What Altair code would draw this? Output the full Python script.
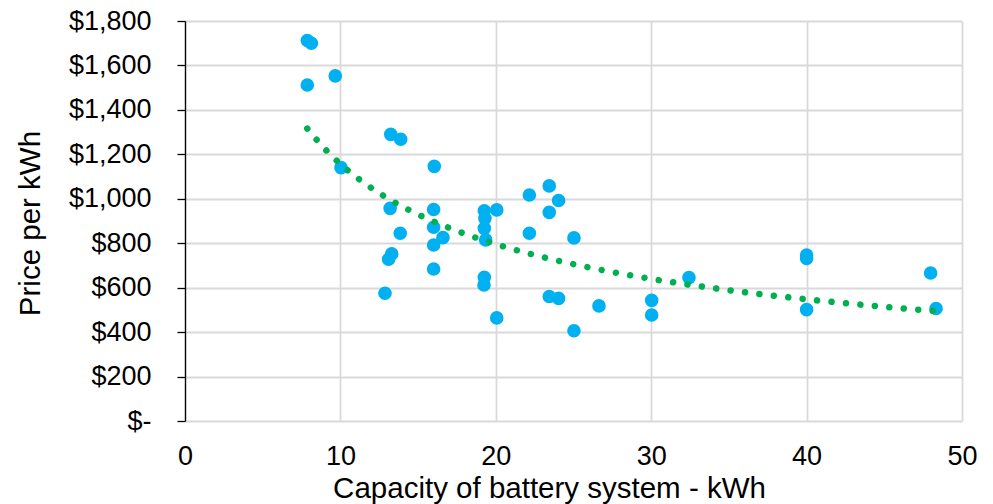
import altair as alt
import pandas as pd

# Battery capacity (kWh) and price per kWh ($)
capacity = [7.87, 8.13, 7.87, 9.67, 10.04, 13.24, 13.88, 16.04, 13.2, 16.0,
            13.85, 16.0, 16.6, 16.0, 16.0, 13.3, 13.1, 12.87, 19.26, 19.3,
            19.26, 19.35, 20.06, 19.26, 19.24, 20.06, 22.16, 22.16, 23.44, 24.04,
            23.44, 25.03, 23.44, 24.04, 25.03, 26.64, 30.03, 30.03, 32.43, 40.0,
            40.0, 40.0, 47.98, 48.33]
price = [1712, 1700, 1512, 1553, 1140, 1290, 1268, 1146, 957, 952,
         845, 872, 825, 792, 684, 752, 728, 575, 946, 912,
         867, 815, 950, 647, 612, 464, 1017, 845, 1058, 992,
         939, 824, 560, 552, 406, 518, 543, 477, 645, 747,
         732, 501, 666, 506]

x_ticks = [0, 10, 20, 30, 40, 50]
y_ticks = [0, 200, 400, 600, 800, 1000, 1200, 1400, 1600, 1800]

df = pd.DataFrame({"capacity": capacity, "price": price})

FONT = "Liberation Sans"

x_enc = alt.X(
    "capacity:Q",
    scale=alt.Scale(domain=[0, 50], nice=False, zero=False),
    axis=alt.Axis(
        values=x_ticks,
        title="Capacity of battery system - kWh",
        grid=True, gridColor="#D9D9D9", gridWidth=1.8,
        domain=False, ticks=False, tickSize=0, labelFlush=False,
        labelPadding=22, labelFont=FONT, labelFontSize=27, labelColor="#000000",
        titleFont=FONT, titleFontSize=29.5, titleFontWeight="normal", titleColor="#000000",
        titleX=364, titleY=76, titleAlign="center", titleBaseline="alphabetic",
    ),
)
y_enc = alt.Y(
    "price:Q",
    scale=alt.Scale(domain=[0, 1800], nice=False),
    axis=alt.Axis(
        values=y_ticks,
        title="Price per kWh",
        labelExpr="datum.value == 0 ? '$-\u2002' : '$' + format(datum.value, ',')",
        grid=True, gridColor="#D9D9D9", gridWidth=1.8,
        domain=True, domainColor="#000000", domainWidth=1.3,
        ticks=True, tickColor="#000000", tickWidth=1.3, tickSize=8,
        labelPadding=26, labelFont=FONT, labelFontSize=27, labelColor="#000000",
        titleFont=FONT, titleFontSize=29.5, titleFontWeight="normal", titleColor="#000000",
        titleX=-155, titleY=202, titleAngle=270, titleAlign="center", titleBaseline="middle",
    ),
)

points = alt.Chart(df).mark_circle(size=185, color="#00B0F0", opacity=1).encode(
    x=x_enc, y=y_enc
)

trend = (
    alt.Chart(df)
    .transform_regression("capacity", "price", method="pow")
    .mark_line(color="#00B050", strokeWidth=6.5, strokeDash=[0.01, 14.5], strokeCap="round")
    .encode(x=x_enc, y=y_enc)
)

chart = (
    alt.layer(points, trend)
    .properties(
        width=777,
        height=400,
        autosize=alt.AutoSizeParams(type="none"),
        padding={"left": 177, "top": 13, "right": 23, "bottom": 83},
    )
    .configure_view(strokeWidth=0)
)

chart.save("out.html", embed_options={"renderer": "svg", "actions": False})
